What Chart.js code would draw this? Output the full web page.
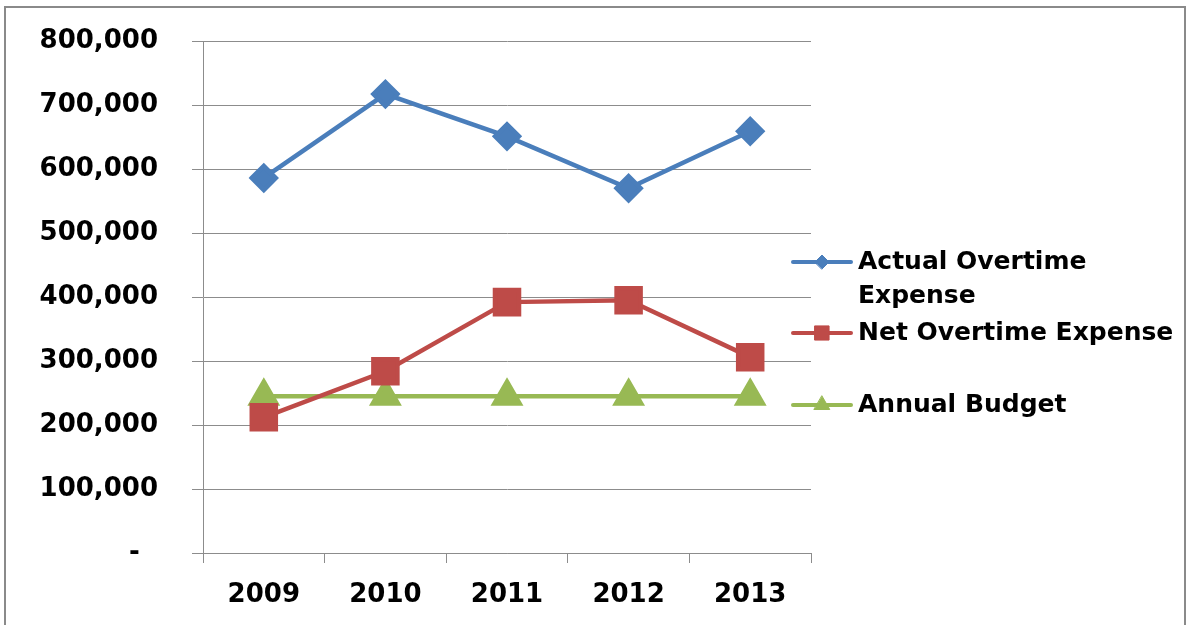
<!DOCTYPE html>
<html>
<head>
<meta charset="utf-8">
<title>Overtime Expense</title>
<script src="https://cdn.jsdelivr.net/npm/chart.js"></script>
<style>
body {
  margin: 0;
  background: #fff;
}
.frame {
  position: absolute;
  left: 4px;
  top: 6px;
  width: 1178px;
  height: 630px;
  border: 2px solid #8a8a8a;
  border-bottom: none;
}
.wrap {
  position: absolute;
  left: 0;
  top: 0;
  width: 1189px;
  height: 625px;
}
</style>
</head>
<body>

<div class="frame"></div>
<div class="wrap"><canvas id="otChart" width="1189" height="625"></canvas></div>

<script>
// data
const years = ["2009", "2010", "2011", "2012", "2013"];
const actualOvertime = [586000, 717000, 651000, 570000, 659000];
const netOvertime = [212000, 284000, 392000, 395000, 306000];
const annualBudget = [245000, 245000, 245000, 245000, 245000];
const legendLines = [["Actual Overtime", "Expense"], ["Net Overtime Expense"], ["Annual Budget"]];

const FONT = "'DejaVu Sans', Verdana, sans-serif";

// legend drawn on the canvas so the first label can wrap onto two lines
const sideLegend = {
  id: "sideLegend",
  afterDraw(chart) {
    const ctx = chart.ctx;
    const rows = [262, 333, 405];
    const markSize = [7, 10, 9];
    ctx.save();
    chart.data.datasets.forEach((ds, i) => {
      const y = rows[i];
      ctx.strokeStyle = ds.borderColor;
      ctx.lineWidth = 4;
      ctx.lineCap = "round";
      ctx.beginPath();
      ctx.moveTo(793, y);
      ctx.lineTo(851, y);
      ctx.stroke();
      ctx.fillStyle = ds.backgroundColor;
      ctx.lineWidth = 1;
      Chart.helpers.drawPoint(ctx, {
        pointStyle: ds.pointStyle,
        radius: markSize[i],
        borderWidth: 1
      }, 822, y);
      ctx.fillStyle = "#000";
      ctx.font = "bold 25px " + FONT;
      ctx.textBaseline = "middle";
      legendLines[i].forEach((t, j) => {
        ctx.fillText(t, 858, y + j * 34);
      });
    });
    ctx.restore();
  }
};

new Chart(document.getElementById("otChart"), {
  type: "line",
  data: {
    labels: years,
    datasets: [
      {
        label: "Actual Overtime Expense",
        data: actualOvertime,
        borderColor: "#4a7ebb",
        backgroundColor: "#4a7ebb",
        borderWidth: 4.5,
        pointStyle: "rectRot",
        pointRadius: 12,
        pointHoverRadius: 12
      },
      {
        label: "Net Overtime Expense",
        data: netOvertime,
        borderColor: "#be4b48",
        backgroundColor: "#be4b48",
        borderWidth: 4.5,
        pointStyle: "rect",
        pointRadius: 17,
        pointHoverRadius: 17
      },
      {
        label: "Annual Budget",
        data: annualBudget,
        borderColor: "#98b954",
        backgroundColor: "#98b954",
        borderWidth: 4.5,
        pointStyle: "triangle",
        pointRadius: 14.5,
        pointHoverRadius: 14.5
      }
    ]
  },
  options: {
    responsive: false,
    animation: false,
    layout: { padding: { top: 41, right: 378, left: 0, bottom: 0 } },
    plugins: {
      legend: { display: false },
      tooltip: { enabled: false }
    },
    scales: {
      x: {
        offset: true,
        grid: {
          offset: true,
          drawOnChartArea: false,
          color: "#8c8c8c",
          tickLength: 10
        },
        border: { color: "#8c8c8c", width: 1 },
        ticks: {
          color: "#000",
          padding: 17,
          font: { family: FONT, size: 26, weight: "bold" }
        },
        afterFit(scale) {
          scale.height = 72;
          scale.paddingLeft = 0;
          scale.paddingRight = 0;
        }
      },
      y: {
        min: 0,
        max: 800000,
        grid: { color: "#8c8c8c", tickLength: 11 },
        border: { color: "#8c8c8c", width: 1 },
        ticks: {
          stepSize: 100000,
          color: "#000",
          padding: 34,
          font: { family: FONT, size: 26, weight: "bold" },
          // accounting style: zero shows as a dash, padded in from the right
          callback: v => v === 0 ? "-  " : v.toLocaleString("en-US")
        },
        afterFit(scale) {
          scale.width = 203;
          scale.paddingTop = 0;
          scale.paddingBottom = 0;
        }
      }
    }
  },
  plugins: [sideLegend]
});
</script>

</body>
</html>
